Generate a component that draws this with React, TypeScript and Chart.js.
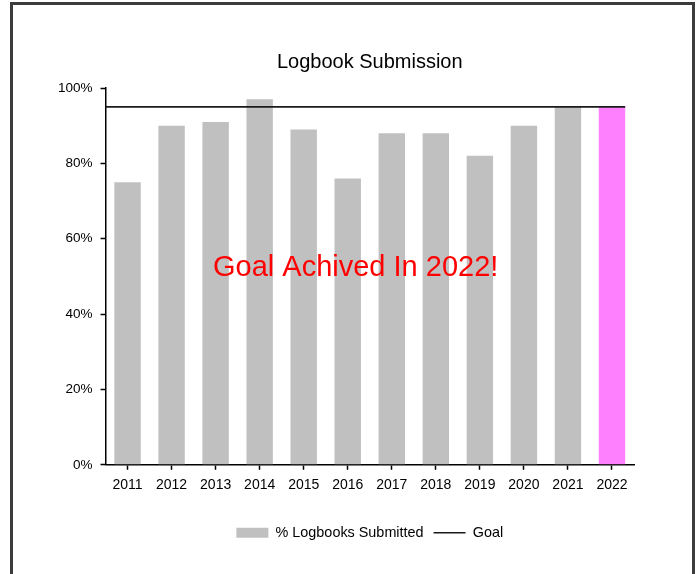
import React, { useEffect, useRef } from "react";
import { Chart, registerables } from "chart.js";

Chart.register(...registerables);

const categories = ["2011", "2012", "2013", "2014", "2015", "2016", "2017", "2018", "2019", "2020", "2021", "2022"];
const submitted = [75, 90, 91, 97, 89, 76, 88, 88, 82, 90, 95, 95];
const goalX = [0, 11.8];
const goalY = [95, 95];
const barColors = ["#c0c0c0", "#c0c0c0", "#c0c0c0", "#c0c0c0", "#c0c0c0", "#c0c0c0", "#c0c0c0", "#c0c0c0", "#c0c0c0", "#c0c0c0", "#c0c0c0", "#ff80ff"];
const yTicks = [0, 20, 40, 60, 80, 100];
const annotationText = "Goal Achived In 2022!";
const annotationX = 5.68;
const annotationY = 52.2;

const FONT = "'Liberation Sans', Arial, sans-serif";

const annotationPlugin = {
  id: "annotationText",
  afterDatasetsDraw(chart: any) {
    const ctx = chart.ctx;
    const x = chart.scales.x2.getPixelForValue(annotationX);
    const y = chart.scales.y.getPixelForValue(annotationY);
    ctx.save();
    ctx.font = `29px ${FONT}`;
    ctx.fillStyle = "#ff0000";
    ctx.textAlign = "center";
    ctx.textBaseline = "middle";
    ctx.fillText(annotationText, x, y);
    ctx.restore();
  },
};

export default function App() {
  const ref = useRef<HTMLCanvasElement>(null);
  useEffect(() => {
    if (!ref.current) return;
    const chart = new Chart(ref.current, {
      type: "bar",
      data: {
        labels: categories,
        datasets: [
          {
            type: "line",
            label: "Goal",
            data: goalX.map((x, i) => ({ x, y: goalY[i] })),
            xAxisID: "x2",
            borderColor: "#1a1a1a",
            borderWidth: 1.8,
            pointRadius: 0,
            pointStyle: "line",
            pointBorderColor: "#1a1a1a",
            pointBorderWidth: 1.5,
            fill: false,
          } as any,
          {
            type: "bar",
            label: "% Logbooks Submitted",
            data: submitted,
            backgroundColor: barColors,
            borderWidth: 0,
            pointStyle: "rect",
            grouped: false,
            barPercentage: 0.6,
            categoryPercentage: 1,
          } as any,
        ],
      },
      options: {
        animation: false,
        responsive: false,
        maintainAspectRatio: false,
        layout: { padding: { left: 50, right: 64, top: 0, bottom: 24 } },
        plugins: {
          title: {
            display: true,
            text: "Logbook Submission",
            fullSize: false,
            color: "#000",
            font: { family: FONT, size: 20, weight: "normal" },
            padding: { top: 50, bottom: 14 },
          },
          legend: {
            position: "bottom",
            fullSize: false,
            labels: {
              usePointStyle: true,
              pointStyleWidth: 32,
              boxHeight: 10,
              boxWidth: 32,
              padding: 10,
              color: "#000",
              font: { family: FONT, size: 14.4 },
              sort: (a: any, b: any) => b.datasetIndex - a.datasetIndex,
            },
          },
          tooltip: { enabled: false },
        },
        scales: {
          x: {
            offset: true,
            afterFit: (scale: any) => {
              scale.height += 15;
            },
            grid: { display: true, drawOnChartArea: false, offset: false, tickLength: 5, tickColor: "#000", tickWidth: 1.5 },
            border: { display: true, color: "#000", width: 1.5 },
            ticks: { color: "#000", font: { family: FONT, size: 14 }, padding: 7, maxRotation: 0, autoSkip: false },
          },
          x2: {
            type: "linear",
            display: false,
            offset: false,
            min: 0,
            max: 12,
          },
          y: {
            min: 0,
            max: 100,
            afterBuildTicks: (scale: any) => {
              scale.ticks = yTicks.map((v) => ({ value: v }));
            },
            grid: { display: true, drawOnChartArea: false, tickLength: 5, tickColor: "#000", tickWidth: 1.5 },
            border: { display: true, color: "#000", width: 1.5 },
            ticks: { color: "#000", font: { family: FONT, size: 13.5 }, padding: 8, callback: (v: any) => v + "%" },
          },
        },
      } as any,
      plugins: [annotationPlugin],
    });
    return () => chart.destroy();
  }, []);

  return (
    <div style={{ position: "fixed", left: 0, top: 0, width: 698, height: 574, background: "#fff", overflow: "hidden" }}>
      <div
        style={{
          position: "absolute",
          left: 10,
          top: 2,
          width: 679,
          height: 640,
          border: "3px solid #3c3c3c",
        }}
      />
      <canvas ref={ref} width={698} height={574} style={{ position: "absolute", left: 0, top: 0, width: 698, height: 574 }} />
    </div>
  );
}
